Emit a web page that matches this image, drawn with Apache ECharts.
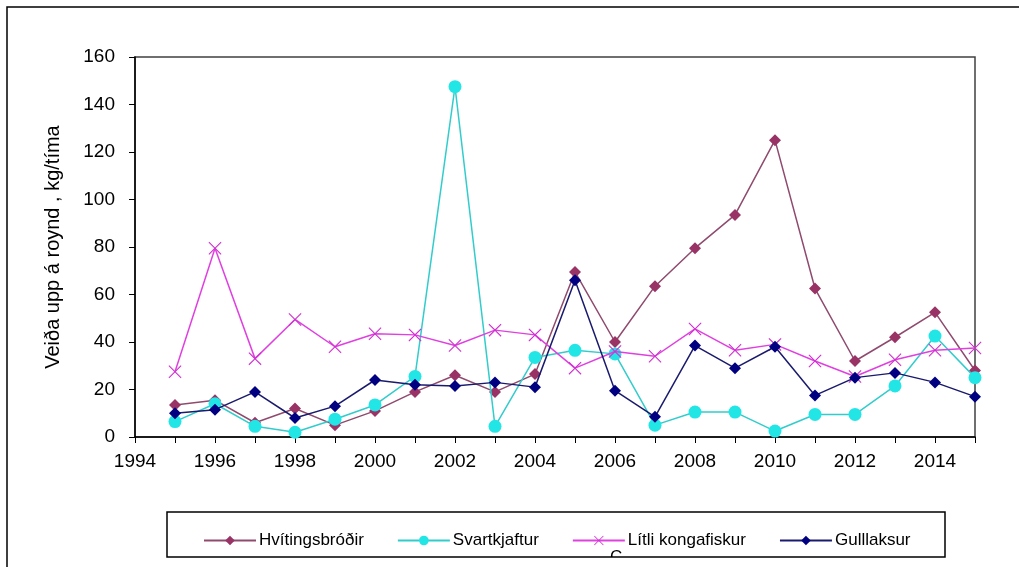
<!DOCTYPE html>
<html>
<head>
<meta charset="utf-8">
<script src="https://cdn.jsdelivr.net/npm/echarts@6/dist/echarts.min.js"></script>
<style>
html,body{margin:0;padding:0;background:#fff;}
#chart{width:1019px;height:567px;}
</style>
</head>
<body>
<div id="chart"></div>
<script>
var years = [1995,1996,1997,1998,1999,2000,2001,2002,2003,2004,2005,2006,2007,2008,2009,2010,2011,2012,2013,2014,2015];
var hvitingsbrodir = [13.5,15.5,6,12,5,11,19,26,19,26.5,69.5,40,63.5,79.5,93.5,125,62.5,32,42,52.5,28];
var svartkjaftur = [6.5,14,4.5,2,7.5,13.5,25.5,147.5,4.5,33.5,36.5,35,5,10.5,10.5,2.5,9.5,9.5,21.5,42.5,25];
var litliKongafiskur = [27.5,79.5,33,49.5,38,43.5,43,38.5,45,43,29,36,34,45.5,36.5,39,32,25.5,32.5,36.5,37.5];
var gulllaksur = [10,11.5,19,8,13,24,22,21.5,23,21,66,19.5,8.5,38.5,29,38,17.5,25,27,23,17];
var seriesNames = ['Hvítingsbróðir','Svartkjaftur','Lítli kongafiskur','Gulllaksur'];
var yTitle = 'Veiða upp á roynd , kg/tíma';

function pairs(vals){ return years.map(function(y,i){ return [y, vals[i]]; }); }

var FONT = "'Liberation Sans', Arial, sans-serif";
var xSymbol = 'path://M0,0.6L0.6,0L5,4.4L9.4,0L10,0.6L5.6,5L10,9.4L9.4,10L5,5.6L0.6,10L0,9.4L4.4,5Z';

var chart = echarts.init(document.getElementById('chart'), null, {renderer:'canvas'});
chart.setOption({
  animation:false,
  backgroundColor:'#fff',
  grid:{left:135,right:44,top:57,bottom:130,show:true,borderColor:'#404040',borderWidth:1.5,backgroundColor:'transparent'},
  xAxis:{
    type:'value',min:1994,max:2015,interval:1,
    axisLine:{lineStyle:{color:'#000',width:1.5}},
    axisTick:{show:true,length:6,lineStyle:{color:'#000',width:1}},
    axisLabel:{color:'#000',fontSize:19,fontFamily:FONT,margin:15,
      formatter:function(v){ return (v%2===0 && v<2015) ? String(v) : ''; }},
    splitLine:{show:false}
  },
  yAxis:{
    type:'value',min:0,max:160,interval:20,
    name:yTitle,nameLocation:'middle',nameGap:72,
    nameTextStyle:{color:'#000',fontSize:20,fontFamily:FONT},
    axisLine:{show:true,lineStyle:{color:'#000',width:1.5}},
    axisTick:{show:true,length:6,lineStyle:{color:'#000',width:1}},
    axisLabel:{color:'#000',fontSize:19,fontFamily:FONT,margin:20},
    splitLine:{show:false}
  },
  legend:{
    left:198,top:527,itemWidth:52,itemHeight:12,itemGap:33,
    textStyle:{color:'#000',fontSize:17,fontFamily:FONT,padding:[0,0,0,-2]},
    data:seriesNames
  },
  graphic:[
    {type:'rect',silent:true,z:-1,shape:{x:7,y:7,width:1100,height:1000},style:{fill:'none',stroke:'#000',lineWidth:1.5}},
    {type:'text',z:10,left:610,top:549,style:{text:'C',fontSize:17,fontFamily:FONT,fill:'#000'}},
    {type:'rect',z:11,shape:{x:160,y:557,width:800,height:12},style:{fill:'#fff'}},
    {type:'rect',z:12,shape:{x:167,y:512,width:778,height:45},style:{fill:'none',stroke:'#000',lineWidth:1.5}}
  ],
  series:[
    {name:seriesNames[0],type:'line',data:pairs(hvitingsbrodir),symbol:'diamond',symbolSize:12,
      lineStyle:{color:'#8f4a6e',width:1.5},itemStyle:{color:'#993366'},z:2},
    {name:seriesNames[1],type:'line',data:pairs(svartkjaftur),symbol:'circle',symbolSize:13,
      lineStyle:{color:'#33CCCC',width:1.5},itemStyle:{color:'#22E6E6'},z:3},
    {name:seriesNames[2],type:'line',data:pairs(litliKongafiskur),symbol:xSymbol,symbolSize:13,
      lineStyle:{color:'#E040E0',width:1.5},itemStyle:{color:'#D030D0'},z:4},
    {name:seriesNames[3],type:'line',data:pairs(gulllaksur),symbol:'diamond',symbolSize:12,
      lineStyle:{color:'#1a1a6e',width:1.5},itemStyle:{color:'#000080'},z:5}
  ]
});
</script>
</body>
</html>
